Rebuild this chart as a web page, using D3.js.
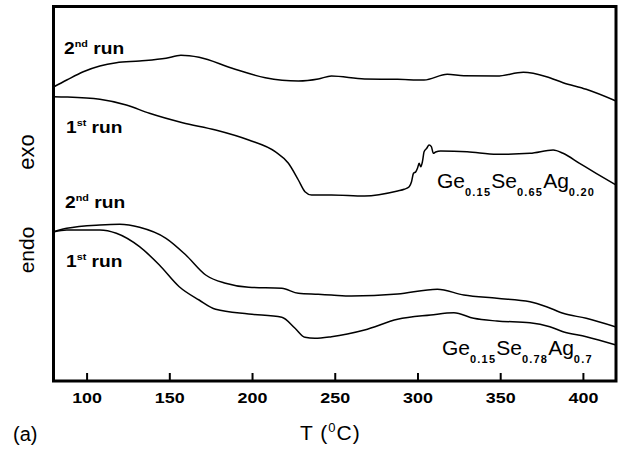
<html>
    <head>
        <title>DSC runs</title>
        <style>
            body { margin: 0; background: #fff; font-family: Arial, "Liberation Sans", Helvetica, sans-serif; }
            svg text { font-family: Arial, "Liberation Sans", Helvetica, sans-serif; fill: #000; }
            .tick text { font-size: 14px; font-weight: bold; }
        </style>
    </head>
    <body>
        <div id="chart-holder"></div>
        <script src="https://d3js.org/d3.v7.min.js"></script>
        <script>
        // temperature (C) and heat flow (arbitrary units, up = exo)
        var exoRun2T = [80, 88, 98, 108, 118, 132, 148, 157, 168, 188, 208, 228, 240, 248, 268, 288, 304, 318, 328, 348, 364, 378, 388, 402, 420];
        var exoRun2 = [294, 301, 309.3, 315, 318.3, 320, 322.7, 325.7, 323.7, 312.7, 303.3, 300, 302, 305, 302, 301.7, 301, 306.7, 305.3, 305, 308.7, 304.3, 298.3, 291.7, 280];

        var exoRun1T = [80, 88, 108, 124, 138, 158, 178, 198, 214, 222, 228, 232, 236, 248, 268, 288, 292, 295, 296.4, 297.6, 299, 300, 301, 302, 303, 304, 305.6, 307, 308.4, 309.6, 311, 314, 330, 348, 368, 382, 388, 398, 408, 420];
        var exoRun1 = [284.3, 284, 281.7, 276, 267.7, 258.3, 251, 241, 229.3, 217.7, 201, 189.3, 186, 186, 185, 190, 191.7, 194.3, 199.3, 207.7, 209.3, 212.7, 217.7, 214.3, 219.3, 229.3, 232.7, 236, 234.3, 227.7, 229, 230, 229.3, 226.7, 227.7, 231, 227.7, 217.7, 207.7, 196];

        var endoRun2T = [80, 88, 108, 120, 132, 148, 160, 172, 184, 198, 218, 228, 240, 248, 260, 288, 312, 328, 348, 368, 378, 388, 402, 420];
        var endoRun2 = [149.3, 152.7, 156, 156.7, 153.7, 142.7, 126, 106, 97.7, 93.7, 92.7, 87.7, 86.7, 86, 85, 87, 91.7, 86, 82.7, 79.3, 74.3, 67.7, 62.7, 54];

        var endoRun1T = [80, 88, 108, 118, 132, 144, 156, 168, 178, 198, 218, 226, 232, 238, 248, 268, 288, 308, 322, 334, 348, 368, 380, 388, 402, 420];
        var endoRun1 = [149, 151, 151, 147.7, 134.3, 116, 94.3, 81, 71.7, 67, 63.7, 52.7, 43.7, 42.7, 44.3, 51, 61.7, 66, 68.3, 62.7, 60, 58.3, 54.3, 49.3, 44.3, 36];

        var xTicks = [100, 150, 200, 250, 300, 350, 400];

        var width = 624;
        var height = 451;
        var margin = {top: 6.5, right: 8, bottom: 70, left: 53.5};
        var innerWidth = width - margin.left - margin.right;
        var innerHeight = height - margin.top - margin.bottom;

        var svg = d3.select('#chart-holder')
                    .append('svg')
                    .attr('width', width)
                    .attr('height', height);

        var g = svg.append('g')
                   .attr('transform', 'translate(' + margin.left + ',' + margin.top + ')');

        var x = d3.scaleLinear().domain([80, 420]).range([0, innerWidth]);
        var y = d3.scaleLinear().domain([0, innerHeight]).range([innerHeight, 0]);

        var line = d3.line()
                     .x(function(d) { return x(d[0]); })
                     .y(function(d) { return y(d[1]); })
                     .curve(d3.curveMonotoneX);

        var series = [
            [exoRun2T, exoRun2],
            [exoRun1T, exoRun1],
            [endoRun2T, endoRun2],
            [endoRun1T, endoRun1]
        ];

        g.selectAll('.run')
         .data(series)
         .enter()
         .append('path')
         .attr('class', 'run')
         .attr('d', function(s) { return line(d3.zip(s[0], s[1])); })
         .attr('fill', 'none')
         .attr('stroke', '#000')
         .attr('stroke-width', 1.5);

        // x axis, ticks pointing inward
        var xAxis = d3.axisBottom(x).tickValues(xTicks).tickSizeInner(-8).tickSizeOuter(0).tickPadding(12);
        var ax = g.append('g')
                  .attr('transform', 'translate(0,' + innerHeight + ')')
                  .call(xAxis);
        ax.select('.domain').remove();
        ax.selectAll('.tick line').attr('stroke', '#000').attr('stroke-width', 2);
        ax.selectAll('.tick text').attr('fill', '#000').attr('transform', 'scale(1.28,1)');

        // frame
        g.append('rect')
         .attr('x', 0)
         .attr('y', 0)
         .attr('width', innerWidth)
         .attr('height', innerHeight)
         .attr('fill', 'none')
         .attr('stroke', '#000')
         .attr('stroke-width', 3);

        // run labels (the scanned lettering is wide, so stretch it a little)
        function runLabel(px, py, num, sup) {
            var t = svg.append('text')
                       .attr('transform', 'translate(' + px + ',' + py + ') scale(1.2,1)')
                       .style('font-size', '16px')
                       .style('font-weight', 'bold');
            t.append('tspan').text(num);
            t.append('tspan').attr('dy', -7).style('font-size', '9px').text(sup);
            t.append('tspan').attr('dy', 7).text(' run');
        }
        runLabel(64, 54, '2', 'nd');
        runLabel(66, 133, '1', 'st');
        runLabel(65, 208, '2', 'nd');
        runLabel(66, 267, '1', 'st');

        // composition labels
        function formula(px, py, parts) {
            var t = svg.append('text')
                       .attr('x', px)
                       .attr('y', py)
                       .style('font-size', '21px');
            parts.forEach(function(p, i) {
                t.append('tspan').attr('dy', i === 0 ? 0 : -8).text(p[0]);
                t.append('tspan').attr('dy', 8)
                 .style('font-size', '11px')
                 .style('font-weight', 'bold')
                 .style('letter-spacing', '1.2px')
                 .text(p[1]);
            });
        }
        formula(437, 188, [['Ge', '0.15'], ['Se', '0.65'], ['Ag', '0.20']]);
        formula(442, 355, [['Ge', '0.15'], ['Se', '0.78'], ['Ag', '0.7']]);

        // side labels
        svg.append('text')
           .attr('transform', 'translate(34,152) rotate(-90)')
           .attr('text-anchor', 'middle')
           .style('font-size', '22px')
           .text('exo');
        svg.append('text')
           .attr('transform', 'translate(34,250) rotate(-90)')
           .attr('text-anchor', 'middle')
           .style('font-size', '21px')
           .text('endo');

        // axis title
        var xt = svg.append('text')
                    .attr('x', 300)
                    .attr('y', 440)
                    .style('font-size', '21px')
                    .style('letter-spacing', '1px');
        xt.append('tspan').text('T (');
        xt.append('tspan').attr('dy', -8).style('font-size', '13px').text('0');
        xt.append('tspan').attr('dy', 8).text('C)');

        svg.append('text')
           .attr('x', 13)
           .attr('y', 441)
           .style('font-size', '20px')
           .text('(a)');
        </script>
    </body>
</html>
